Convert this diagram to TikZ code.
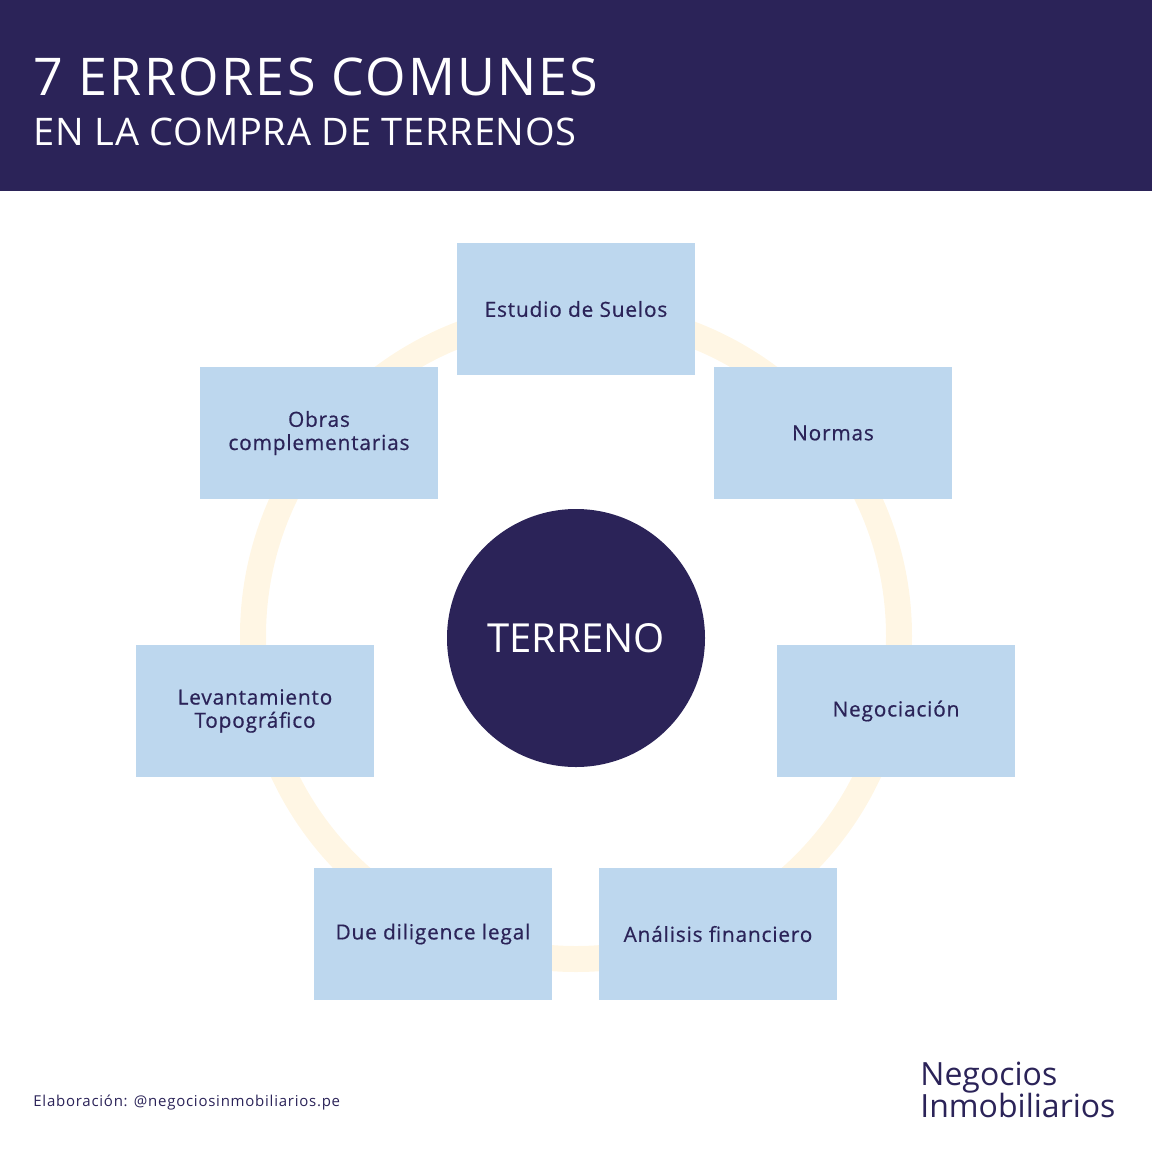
\documentclass[tikz,border=0pt]{standalone}
\usepackage{fontspec}
\setmainfont{Open Sans}
\definecolor{NiNavy}{RGB}{43,35,88}
\definecolor{NiBlue}{RGB}{189,215,238}
\definecolor{NiCream}{RGB}{255,246,228}
\usetikzlibrary{positioning}

\begin{document}
\begin{tikzpicture}[x=0.5pt, y=-0.5pt,
    errbox/.style={rectangle, fill=NiBlue, minimum width=119pt, minimum height=66pt,
        inner sep=0pt, align=center, text=NiNavy,
        font=\fontsize{10.4}{11.6}\selectfont\addfontfeature{LetterSpace=4,FakeBold=0.6}}]
    \useasboundingbox (0,0) rectangle (1152,1152);
    % header band
    \fill[NiNavy] (0,0) rectangle (1152,191);
    \node[anchor=base west, text=white, inner sep=0pt,
        font=\fontsize{26}{30}\selectfont\addfontfeature{LetterSpace=4.3}] (title) at (33,95) {7 ERRORES COMUNES};
    \node[anchor=base west, text=white, inner sep=0pt,
        font=\fontsize{19}{22}\selectfont\addfontfeature{LetterSpace=2}] (subtitle) at (33,145) {EN LA COMPRA DE TERRENOS};
    % ring behind the boxes
    \draw[NiCream, line width=13pt] (576,636) circle[radius=161.5pt];
    \node[circle, fill=NiNavy, minimum size=129pt, inner sep=0pt, text=white, font=\fontsize{20}{24}\selectfont] (terreno) at (576,638) {TERRENO};
    \node[errbox] (suelos) at (576,309) {Estudio de Suelos};
    \node[errbox] (normas) at (833,433) {Normas};
    \node[errbox] (negoc) at (896,711) {Negociación};
    \node[errbox] (finan) at (718,934) {Análisis financiero};
    \node[errbox] (legal) at (433,934) {Due diligence legal};
    \node[errbox] (topo) at (255,711) {Levantamiento\\Topográfico};
    \node[errbox] (obras) at (319,433) {Obras\\complementarias};
    % footer
    \node[anchor=base west, text=NiNavy, inner sep=0pt,
        font=\fontsize{7.5}{9}\selectfont\addfontfeature{LetterSpace=5}] (credit) at (33,1106) {Elaboración: @negociosinmobiliarios.pe};
    \node[anchor=base west, align=left, text=NiNavy, inner sep=0pt,
        font=\fontsize{16}{16}\selectfont] (brand) at (920,1117) {Negocios\\Inmobiliarios};
\end{tikzpicture}
\end{document}
